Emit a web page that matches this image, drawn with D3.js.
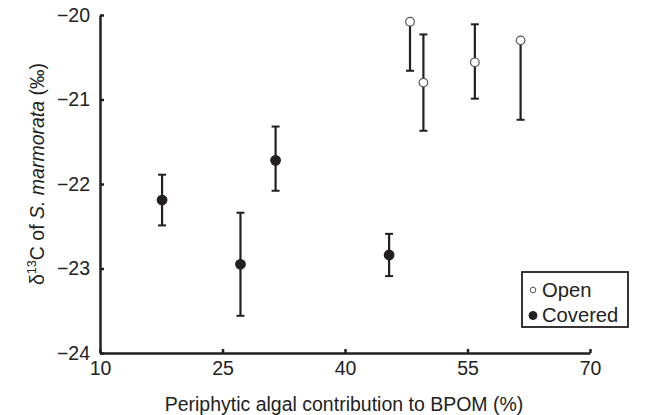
<!DOCTYPE html>
<html><head><meta charset="utf-8">
<script src="https://cdn.jsdelivr.net/npm/d3@7"></script>
<style>body{margin:0;background:#fff}svg{display:block}text{font-family:"Liberation Sans",Arial,sans-serif;fill:#222}</style>
</head><body><svg id="c" width="658" height="415"></svg>
<script>
const openX = [47.96, 49.6, 55.9, 61.5];
const openY = [-20.08, -20.80, -20.56, -20.30];
const openLo = [-20.66, -21.37, -20.99, -21.24];
const openHi = [-20.08, -20.23, -20.11, -20.30];
const covX = [17.6, 27.2, 31.5, 45.4];
const covY = [-22.19, -22.95, -21.72, -22.84];
const covLo = [-22.49, -23.56, -22.08, -23.09];
const covHi = [-21.89, -22.34, -21.32, -22.59];
const xTicks = [10, 25, 40, 55, 70];
const yTicks = [-24, -23, -22, -21, -20];
const legendLabels = ["Open", "Covered"];

const svg = d3.select("#c");
const x = d3.scaleLinear().domain([10, 70]).range([100, 590]);
const y = d3.scaleLinear().domain([-24, -20]).range([353, 15]);
const ink = "#231f20";
const fmt = d => (d < 0 ? "\u2212" + Math.abs(d) : "" + d);

const xa = svg.append("g").attr("transform", "translate(0,353)")
  .call(d3.axisBottom(x).tickValues(xTicks).tickSizeInner(-4).tickSizeOuter(0).tickPadding(10).tickFormat(fmt));
const ya = svg.append("g").attr("transform", "translate(100,0)")
  .call(d3.axisLeft(y).tickValues(yTicks).tickSizeInner(-4).tickSizeOuter(0).tickPadding(10).tickFormat(fmt));
[xa, ya].forEach(a => {
  a.select(".domain").attr("stroke", ink).attr("stroke-width", 2.5);
  a.selectAll(".tick line").attr("stroke", ink).attr("stroke-width", 2.5);
  a.selectAll(".tick text").attr("font-size", 19.5).attr("fill", ink)
   .style("font-family", '"Liberation Sans",Arial,sans-serif');
});
xa.selectAll(".tick text").attr("dy", "0.62em");

function series(xs, ys, lo, hi, filled) {
  const g = svg.append("g");
  xs.forEach((xv, i) => {
    const cx = x(xv);
    g.append("line").attr("x1", cx).attr("x2", cx).attr("y1", y(lo[i])).attr("y2", y(hi[i]))
      .attr("stroke", ink).attr("stroke-width", 2.2);
    [lo[i], hi[i]].forEach(v => { if (v !== ys[i]) g.append("line").attr("x1", cx - 4).attr("x2", cx + 4)
      .attr("y1", y(v)).attr("y2", y(v)).attr("stroke", ink).attr("stroke-width", 2); });
  });
  g.selectAll("circle").data(xs).join("circle")
    .attr("cx", d => x(d)).attr("cy", (d, i) => y(ys[i])).attr("r", filled ? 4.8 : 4.3)
    .attr("fill", filled ? ink : "#fff").attr("stroke", filled ? ink : "#555").attr("stroke-width", 1.2);
}
series(openX, openY, openLo, openHi, false);
series(covX, covY, covLo, covHi, true);

const lg = svg.append("g");
lg.append("rect").attr("x", 522).attr("y", 272).attr("width", 106).attr("height", 55)
  .attr("fill", "#fff").attr("stroke", ink).attr("stroke-width", 1.8);
legendLabels.forEach((t, i) => {
  const yy = 290 + i * 25.5;
  lg.append("circle").attr("cx", 533).attr("cy", yy).attr("r", i ? 4 : 2.8)
    .attr("fill", i ? ink : "#fff").attr("stroke", i ? ink : "#555").attr("stroke-width", 1);
  lg.append("text").attr("x", 542).attr("y", yy + 6.8).attr("font-size", 20.2).attr("fill", ink).text(t);
});

svg.append("text").attr("x", 344).attr("y", 411).attr("text-anchor", "middle")
  .attr("font-size", 19.5).text("Periphytic algal contribution to BPOM (%)");
const yt = svg.append("text").attr("transform", "translate(44,174) rotate(-90)")
  .attr("text-anchor", "middle").attr("font-size", 19.5);
yt.append("tspan").text("\u03b4");
yt.append("tspan").attr("font-size", 12.5).attr("dy", -8).text("13");
yt.append("tspan").attr("dy", 8).text("C of ");
yt.append("tspan").attr("font-style", "italic").text("S. marmorata");
yt.append("tspan").text(" (\u2030)");
</script></body></html>
